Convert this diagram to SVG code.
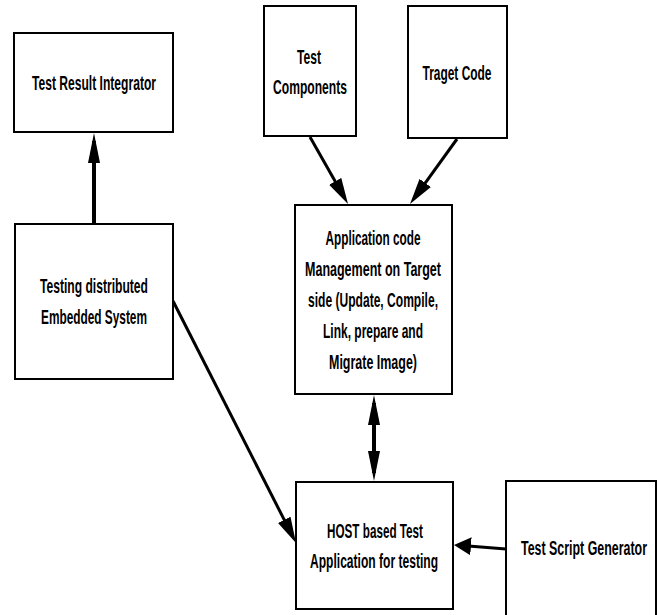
<svg xmlns="http://www.w3.org/2000/svg" width="658" height="615" viewBox="0 0 658 615">
  <style>
    .box { fill: #ffffff; stroke: #000000; stroke-width: 2; }
    .lbl { font-family: "Liberation Sans", Arial, sans-serif; font-weight: bold; font-size: 21px; fill: #000000; text-anchor: middle; }
    .wire { fill: none; stroke: #000000; stroke-width: 3; }
    .thick { stroke-width: 4; }
  </style>
  <defs>
    <!-- arrowheads: the tip sits 8px beyond the line's end point -->
    <marker id="ah" markerUnits="userSpaceOnUse" viewBox="0 0 26 14" markerWidth="26" markerHeight="14" refX="18" refY="7" orient="auto">
      <path d="M0,0 L26,7 L0,14 z" fill="#000"/>
    </marker>
    <marker id="ahWide" markerUnits="userSpaceOnUse" viewBox="0 0 17 18" markerWidth="17" markerHeight="18" refX="9" refY="9" orient="auto">
      <path d="M0,0 L17,9 L0,18 z" fill="#000"/>
    </marker>
    <marker id="ahLong" markerUnits="userSpaceOnUse" viewBox="0 0 30 12" markerWidth="30" markerHeight="12" refX="22" refY="6" orient="auto-start-reverse">
      <path d="M0,0 L30,6 L0,12 z" fill="#000"/>
    </marker>
  </defs>

  <g id="connectors">
    <line class="wire thick" x1="94" y1="224" x2="94" y2="141" marker-end="url(#ahLong)"/>
    <line class="wire" x1="310" y1="137" x2="344.05" y2="197.04" marker-end="url(#ah)"/>
    <line class="wire" x1="457" y1="139" x2="414.69" y2="197.52" marker-end="url(#ah)"/>
    <line class="wire" x1="173" y1="301" x2="292.38" y2="535.87" marker-end="url(#ah)"/>
    <line class="wire thick" x1="374" y1="403" x2="374" y2="473" marker-start="url(#ahLong)" marker-end="url(#ahLong)"/>
    <line class="wire" x1="506" y1="549" x2="461.98" y2="545.6" marker-end="url(#ahWide)"/>
  </g>

  <g id="test-result-integrator">
    <rect class="box" x="14" y="33" width="159" height="99"/>
    <text class="lbl" x="94" y="90" textLength="124" lengthAdjust="spacingAndGlyphs">Test Result Integrator</text>
  </g>

  <g id="test-components">
    <rect class="box" x="264" y="6" width="92" height="130"/>
    <text class="lbl" x="309" y="64" textLength="24" lengthAdjust="spacingAndGlyphs">Test</text>
    <text class="lbl" x="310" y="94" textLength="74" lengthAdjust="spacingAndGlyphs">Components</text>
  </g>

  <g id="traget-code">
    <rect class="box" x="408" y="6" width="99" height="132"/>
    <text class="lbl" x="457" y="80" textLength="69" lengthAdjust="spacingAndGlyphs">Traget Code</text>
  </g>

  <g id="application-code-management">
    <rect class="box" x="295" y="205" width="157" height="189"/>
    <text class="lbl" x="373" y="245" textLength="95" lengthAdjust="spacingAndGlyphs">Application code</text>
    <text class="lbl" x="373" y="276" textLength="136" lengthAdjust="spacingAndGlyphs">Management on Target</text>
    <text class="lbl" x="373" y="307" textLength="130" lengthAdjust="spacingAndGlyphs">side (Update, Compile,</text>
    <text class="lbl" x="373" y="338" textLength="100" lengthAdjust="spacingAndGlyphs">Link, prepare and</text>
    <text class="lbl" x="373" y="369" textLength="88" lengthAdjust="spacingAndGlyphs">Migrate Image)</text>
  </g>

  <g id="testing-distributed-embedded-system">
    <rect class="box" x="15" y="224" width="158" height="155"/>
    <text class="lbl" x="94" y="293" textLength="108" lengthAdjust="spacingAndGlyphs">Testing distributed</text>
    <text class="lbl" x="94" y="324" textLength="106" lengthAdjust="spacingAndGlyphs">Embedded System</text>
  </g>

  <g id="host-test-application">
    <rect class="box" x="296" y="482" width="157" height="127"/>
    <text class="lbl" x="375" y="538" textLength="96" lengthAdjust="spacingAndGlyphs">HOST based Test</text>
    <text class="lbl" x="374" y="568" textLength="128" lengthAdjust="spacingAndGlyphs">Application for testing</text>
  </g>

  <g id="test-script-generator">
    <rect class="box" x="506" y="481" width="150" height="145"/>
    <!-- condensed by a horizontal scale so the label stays inside the box -->
    <text class="lbl" transform="translate(584,555) scale(0.587,1)" x="0" y="0" textLength="214.7" lengthAdjust="spacingAndGlyphs">Test Script Generator</text>
  </g>
</svg>
